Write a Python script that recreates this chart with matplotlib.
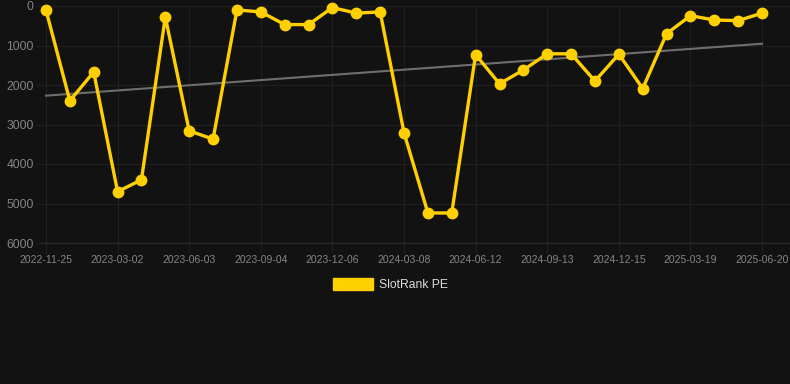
import numpy as np
import matplotlib
matplotlib.use("Agg")
import matplotlib.pyplot as plt

plt.rcParams["font.family"] = ["Liberation Sans", "DejaVu Sans"]

# Rank values (lower is better), one per monthly snapshot
ranks = [100, 2400, 1670, 4700, 4400, 280, 3160, 3370, 100, 150,
         470, 470, 40, 180, 150, 3210, 5240, 5240, 1230, 1970,
         1620, 1210, 1210, 1900, 1220, 2090, 700, 245, 355, 370, 180]
tick_labels = ["2022-11-25", "2023-03-02", "2023-06-03", "2023-09-04",
               "2023-12-06", "2024-03-08", "2024-06-12", "2024-09-13",
               "2024-12-15", "2025-03-19", "2025-06-20"]
trend_ends = [2270, 955]
y_ticks = [0, 1000, 2000, 3000, 4000, 5000, 6000]

bg = "#121212"
gold = "#FFD000"
grid_col = "#202020"

x = np.arange(len(ranks))

fig = plt.figure(figsize=(7.9, 3.84), dpi=100, facecolor=bg)
ax = fig.add_axes([40 / 790, 1 - 243 / 384, 1 - 40 / 790, (243 - 6) / 384])
ax.set_facecolor(bg)

ax.plot([x[0], x[-1]], trend_ends, color="#6e6e6e", linewidth=1.5, zorder=2)
ax.plot(x, ranks, color=gold, linewidth=2.4, marker="o", markersize=7.5,
        clip_on=False, zorder=3, label="SlotRank PE")

ax.set_ylim(6000, 0)
ax.set_xlim(-0.25, 31.17)
ax.set_yticks(y_ticks)
ax.set_yticklabels([str(v) for v in y_ticks])
ax.set_xticks(x[::3])
ax.set_xticklabels(tick_labels)

ax.grid(True, color=grid_col, linewidth=0.8)
ax.set_axisbelow(True)
for s in ax.spines.values():
    s.set_visible(False)
ax.spines["bottom"].set_visible(True)
ax.spines["bottom"].set_color("#2a2a2a")
ax.tick_params(axis="x", colors=grid_col, length=7, width=0.8, pad=1.5,
               labelsize=7.5, labelcolor="#858585")
ax.tick_params(axis="y", colors=grid_col, length=3, width=0.8, pad=1.5,
               labelsize=8.7, labelcolor="#858585")

# legend
leg_ax = fig.add_axes([0, 0, 1, 1], facecolor="none")
leg_ax.set_axis_off()
leg_ax.set_xlim(0, 790)
leg_ax.set_ylim(384, 0)
leg_ax.add_patch(plt.Rectangle((333, 278), 40, 12, color=gold))
leg_ax.text(379, 284.5, "SlotRank PE", color="#dcdcdc", fontsize=8.7,
            va="center", ha="left")

fig.savefig("out.png", dpi=100, facecolor=bg)
